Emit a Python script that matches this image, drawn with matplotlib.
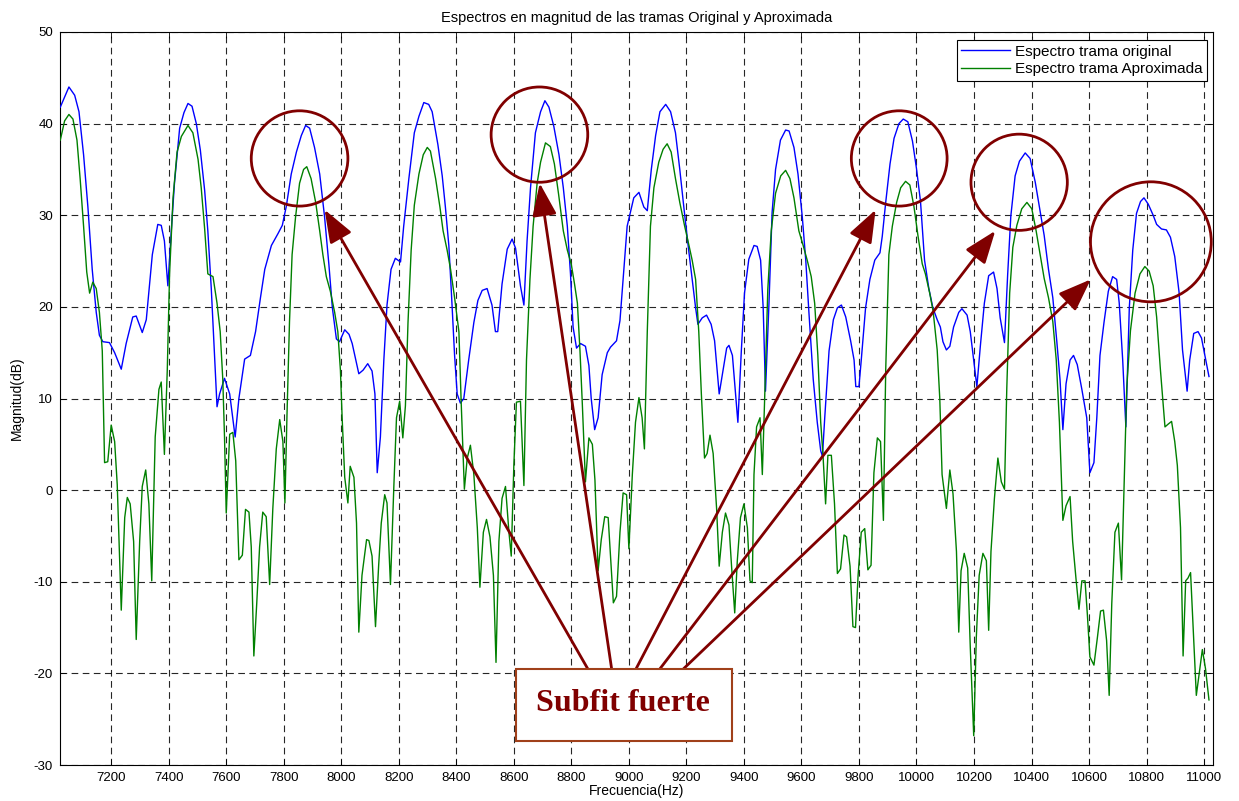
import matplotlib
matplotlib.use("Agg")
import matplotlib.pyplot as plt
from matplotlib.patches import Ellipse, Rectangle

plt.rcParams['font.family'] = ['Liberation Sans', 'DejaVu Sans']
plt.rcParams['axes.unicode_minus'] = False

# ---------------- data ----------------
freq_orig = [7023, 7053, 7073, 7088, 7104, 7119, 7134, 7148, 7159, 7171, 7194, 7212, 7235, 7252, 7275, 7287,
             7308, 7322, 7343, 7362, 7374, 7385, 7397, 7409, 7420, 7438, 7453, 7467, 7481, 7496, 7510, 7525,
             7536, 7548, 7560, 7568, 7577, 7594, 7612, 7631, 7644, 7664, 7684, 7702, 7719, 7734, 7757, 7780,
             7795, 7809, 7826, 7844, 7861, 7876, 7890, 7907, 7925, 7942, 7957, 7969, 7983, 7994, 8012, 8027,
             8038, 8061, 8076, 8092, 8107, 8117, 8125, 8136, 8148, 8159, 8173, 8188, 8206, 8217, 8235, 8254,
             8270, 8287, 8304, 8316, 8336, 8351, 8362, 8374, 8383, 8394, 8403, 8414, 8426, 8443, 8461, 8475,
             8490, 8507, 8524, 8536, 8544, 8559, 8577, 8594, 8606, 8623, 8635, 8646, 8658, 8675, 8693, 8708,
             8722, 8739, 8757, 8772, 8786, 8797, 8806, 8818, 8832, 8849, 8861, 8869, 8881, 8893, 8907, 8925,
             8936, 8957, 8969, 8980, 8994, 9006, 9017, 9035, 9052, 9064, 9078, 9093, 9108, 9128, 9145, 9162,
             9177, 9191, 9206, 9220, 9232, 9240, 9255, 9270, 9286, 9298, 9314, 9325, 9340, 9348, 9360, 9379,
             9391, 9402, 9417, 9435, 9446, 9458, 9467, 9475, 9487, 9498, 9510, 9527, 9545, 9557, 9574, 9588,
             9603, 9615, 9626, 9641, 9655, 9667, 9673, 9681, 9696, 9711, 9725, 9739, 9754, 9771, 9783, 9789,
             9800, 9808, 9823, 9838, 9855, 9873, 9881, 9893, 9908, 9922, 9939, 9954, 9970, 9986, 10000, 10014,
             10028, 10043, 10057, 10072, 10083, 10092, 10104, 10116, 10129, 10147, 10158, 10176, 10187, 10199,
             10210, 10222, 10236, 10251, 10268, 10280, 10291, 10306, 10317, 10328, 10343, 10358, 10378, 10395,
             10413, 10430, 10444, 10459, 10474, 10488, 10499, 10509, 10520, 10534, 10546, 10559, 10575, 10592,
             10603, 10617, 10627, 10638, 10652, 10667, 10682, 10696, 10705, 10717, 10728, 10740, 10752, 10765,
             10779, 10791, 10806, 10823, 10835, 10852, 10869, 10883, 10898, 10913, 10925, 10941, 10950, 10964,
             10979, 10991, 11006, 11017]
mag_orig = [41.8, 44.0, 43.1, 41.3, 36.6, 30.9, 24.1, 19.4, 16.9, 16.2, 16.1, 15.0, 13.2, 16.0, 18.9, 19.0,
            17.2, 18.6, 25.7, 29.0, 28.9, 27.2, 22.3, 28.3, 33.5, 39.5, 41.2, 42.2, 41.9, 40.0, 37.1, 32.7,
            28.3, 22.0, 14.2, 9.1, 10.5, 12.2, 10.5, 5.8, 10.0, 14.3, 14.7, 17.3, 21.0, 24.1, 26.7, 28.0,
            28.9, 31.0, 34.5, 36.9, 38.7, 39.8, 39.5, 37.4, 34.5, 29.8, 24.6, 19.9, 16.5, 16.2, 17.5, 17.0,
            16.0, 12.7, 13.1, 13.8, 13.0, 10.5, 1.9, 5.8, 14.2, 20.2, 24.1, 25.3, 24.9, 28.8, 34.0, 39.0,
            40.8, 42.3, 42.1, 41.3, 37.7, 34.3, 30.9, 26.7, 21.5, 14.7, 10.5, 9.5, 10.0, 14.2, 18.3, 20.7,
            21.8, 22.0, 20.2, 17.3, 17.3, 22.5, 26.3, 27.4, 26.4, 22.3, 20.2, 27.2, 33.0, 39.0, 41.3, 42.5,
            41.8, 39.7, 36.6, 33.0, 28.8, 23.6, 17.8, 15.5, 16.0, 15.7, 13.6, 10.0, 6.6, 7.9, 12.6, 15.0,
            15.6, 16.3, 18.5, 23.0, 28.8, 30.4, 31.9, 32.5, 30.9, 30.5, 35.0, 38.7, 41.3, 42.1, 41.3, 39.0,
            35.0, 30.9, 26.7, 23.0, 19.9, 18.1, 18.8, 19.1, 18.1, 16.3, 10.5, 12.6, 15.5, 15.8, 14.7, 7.4,
            15.2, 21.5, 25.2, 26.7, 26.6, 25.1, 19.9, 10.8, 20.3, 30.3, 35.0, 38.2, 39.3, 39.2, 37.4, 34.5,
            29.8, 25.1, 19.4, 12.1, 7.4, 4.3, 3.7, 7.9, 15.2, 18.6, 19.9, 20.2, 18.9, 16.3, 14.2, 11.3,
            11.3, 14.2, 19.9, 23.0, 25.1, 25.9, 27.7, 31.4, 35.6, 38.4, 40.0, 40.5, 40.2, 38.1, 35.1, 31.5,
            25.1, 22.0, 19.9, 18.6, 17.8, 16.2, 15.3, 15.7, 17.8, 19.4, 19.8, 19.1, 17.3, 14.2,
            11.3, 15.7, 20.4, 23.4, 23.8, 22.0, 18.8, 16.1, 23.5, 29.9, 34.3, 35.9, 36.8, 36.2,
            33.6, 30.4, 27.8, 24.1, 21.0, 16.2, 12.1, 6.6, 11.6, 14.2, 14.7, 13.7, 11.0, 7.9,
            1.9, 3.0, 7.9, 14.7, 18.3, 21.7, 23.3, 23.0, 20.4, 14.2, 6.9, 19.9, 26.2, 30.2,
            31.5, 31.9, 31.2, 30.0, 29.0, 28.5, 28.4, 27.6, 25.5, 21.6, 15.3, 10.8, 14.2, 17.1,
            17.3, 16.6, 14.2, 12.4]

freq_aprox = [7023, 7038, 7053, 7067, 7081, 7092, 7104, 7115, 7125, 7136, 7148, 7159, 7169, 7177, 7188, 7200,
              7212, 7221, 7235, 7247, 7256, 7266, 7278, 7287, 7299, 7308, 7320, 7331, 7341, 7353, 7366, 7374,
              7385, 7395, 7403, 7415, 7429, 7444, 7467, 7484, 7502, 7513, 7525, 7536, 7554, 7568, 7579, 7588,
              7594, 7600, 7612, 7623, 7633, 7644, 7656, 7667, 7679, 7687, 7696, 7706, 7716, 7727, 7739, 7751,
              7762, 7774, 7786, 7797, 7804, 7811, 7820, 7829, 7841, 7855, 7869, 7880, 7895, 7911, 7925, 7936,
              7948, 7962, 7977, 7988, 7997, 8003, 8012, 8023, 8031, 8044, 8053, 8061, 8072, 8088, 8096, 8107,
              8119, 8130, 8139, 8151, 8159, 8171, 8183, 8192, 8203, 8214, 8223, 8232, 8243, 8254, 8270, 8285,
              8299, 8310, 8328, 8343, 8354, 8368, 8380, 8394, 8409, 8417, 8428, 8438, 8449, 8461, 8473, 8482,
              8494, 8505, 8517, 8529, 8538, 8548, 8559, 8571, 8583, 8591, 8600, 8609, 8623, 8635, 8644, 8656,
              8667, 8681, 8693, 8710, 8727, 8741, 8756, 8772, 8786, 8800, 8811, 8821, 8830, 8838, 8849, 8861,
              8873, 8882, 8893, 8904, 8916, 8928, 8937, 8946, 8957, 8969, 8980, 8992, 9000, 9012, 9023, 9035,
              9046, 9054, 9064, 9075, 9087, 9104, 9119, 9133, 9147, 9162, 9177, 9194, 9209, 9220, 9232, 9243,
              9252, 9263, 9272, 9282, 9293, 9305, 9314, 9325, 9336, 9348, 9357, 9368, 9377, 9388, 9400, 9412,
              9421, 9429, 9435, 9444, 9456, 9464, 9472, 9483, 9495, 9510, 9528, 9545, 9560, 9574, 9591, 9606,
              9620, 9634, 9646, 9657, 9667, 9675, 9684, 9692, 9704, 9715, 9725, 9736, 9748, 9757, 9769, 9779,
              9788, 9797, 9808, 9820, 9831, 9842, 9852, 9864, 9875, 9885, 9893, 9904, 9916, 9931, 9945, 9962,
              9977, 9991, 10005, 10020, 10031, 10046, 10058, 10072, 10081, 10089, 10104, 10116, 10127, 10139,
              10147, 10155, 10166, 10178, 10187, 10199, 10208, 10218, 10231, 10243, 10251, 10259, 10271, 10283,
              10295, 10306, 10314, 10324, 10335, 10349, 10366, 10384, 10401, 10416, 10430, 10444, 10459, 10474,
              10486, 10497, 10509, 10520, 10534, 10543, 10555, 10565, 10575, 10586, 10594, 10603, 10617, 10629,
              10640, 10650, 10661, 10670, 10679, 10690, 10702, 10713, 10721, 10731, 10744, 10760, 10777, 10794,
              10809, 10823, 10835, 10848, 10864, 10875, 10887, 10898, 10907, 10918, 10927, 10936, 10944, 10953,
              10962, 10973, 10985, 10994, 11005, 11017]
mag_aprox = [38.2, 40.3, 41.0, 40.5, 38.2, 34.0, 28.8, 23.8, 21.5, 22.7, 22.0, 19.4, 15.2, 3.0, 3.1, 7.1,
             5.3, 0.6, -13.1, -3.0, -0.8, -1.5, -5.6, -16.3, -5.6, 0.4, 2.2, -1.5, -9.9, 5.8, 11.0, 11.8,
             3.9, 13.1, 23.6, 31.9, 36.9, 38.6, 39.8, 39.0, 36.1, 33.0, 28.5, 23.6, 23.3, 20.4, 17.3, 12.1,
             5.8, -2.5, 6.1, 6.3, 3.2, -7.6, -7.1, -2.1, -2.4, -6.2, -18.1, -12.4, -6.2, -2.4, -2.9, -10.3,
             -2.0, 4.5, 7.7, 5.3, -1.4, 7.9, 18.4, 25.7, 29.8, 33.5, 35.0, 35.3, 34.0, 31.4, 28.3, 25.7,
             23.3, 21.7, 19.4, 17.3, 13.1, 7.9, 1.4, -1.4, 2.6, 1.4, -3.6, -15.5, -9.3, -5.4, -5.5, -7.2,
             -14.9, -8.2, -3.6, -0.5, -1.4, -10.3, 0.6, 7.9, 9.7, 5.7, 9.2, 18.3, 26.2, 31.1, 34.5, 36.6,
             37.4, 37.0, 34.0, 30.9, 28.3, 26.2, 24.1, 21.0, 17.3, 9.5, 0.1, 3.5, 4.9, 1.7, -4.1, -10.6,
             -4.6, -3.2, -5.1, -9.3, -18.8, -5.6, -0.9, 0.4, -4.6, -7.2, 2.7, 9.6, 9.7, 0.5, 14.2, 23.0,
             28.8, 33.5, 35.8, 37.9, 37.5, 35.6, 32.2, 28.3, 26.2, 24.6, 22.5, 20.4, 15.2, 9.5, 0.9, 5.7,
             5.0, 1.1, -8.8, -5.4, -2.9, -3.0, -7.7, -12.3, -11.6, -4.6, -0.3, -0.5, -6.4, 1.7, 7.4, 10.1,
             7.9, 4.5, 17.3, 28.8, 33.0, 35.8, 37.2, 37.8, 36.9, 34.0, 31.4, 28.8, 26.7, 25.1, 23.0, 17.3,
             10.5, 3.5, 4.0, 6.0, 4.0, -2.0, -8.3, -4.6, -2.5, -3.8, -8.3, -13.4, -7.7, -3.0, -1.5, -4.1,
             -9.9, -10.1, 1.7, 6.9, 7.9, 1.7, 9.9, 21.9, 28.3, 32.4, 34.3, 34.9, 34.0, 31.9, 28.3, 26.7,
             25.1, 23.3, 20.4, 14.7, 7.4, 3.8, -1.5, 3.8, 3.8, -1.5, -9.1, -8.6, -4.9, -5.1, -8.3, -14.9,
             -15.0, -9.3, -4.6, -4.2, -8.7, -8.2, 1.9, 5.7, 5.3, -3.3, 13.1, 25.7, 28.8, 31.4, 33.0, 33.7,
             33.3, 31.0, 27.8, 24.7, 23.6, 21.5, 19.5, 15.3, 10.0, 1.7, -2.0, 2.2, -0.4, -6.7,
             -15.5, -8.8, -6.9, -8.5, -17.1, -26.8, -16.1, -9.3, -6.9, -7.7, -15.3, -6.7, -0.9, 3.5,
             0.9, 0.1, 11.1, 21.5, 26.5, 28.9, 30.7, 31.4, 30.7, 28.3, 25.7, 23.1, 21.0, 18.4,
             14.2, 7.4, -3.3, -1.7, -0.7, -5.6, -9.8, -13.0, -9.9, -9.9, -13.5, -18.2, -19.1, -16.1,
             -13.2, -13.1, -16.4, -22.4, -12.4, -4.6, -3.6, -9.8, -0.4, 11.1, 17.4, 21.5, 23.6, 24.4,
             23.9, 22.3, 18.9, 13.2, 6.9, 7.2, 7.5, 5.3, 2.7, -4.1, -18.1, -9.9, -9.6, -9.0,
             -15.0, -22.4, -19.5, -17.4, -19.5, -22.9]

x_ticks = list(range(7200, 11001, 200))
y_ticks = list(range(-30, 51, 10))

title_text = "Espectros en magnitud de las tramas Original y Aproximada"
xlabel_text = "Frecuencia(Hz)"
ylabel_text = "Magnitud(dB)"
legend_labels = ["Espectro trama original", "Espectro trama Aproximada"]

# annotation geometry (data units)
ellipse_centers = [(7855, 36.2), (8689, 38.8), (9940, 36.2), (10357, 33.6), (10815, 27.1)]
ellipse_sizes = [(336, 10.4), (336, 10.4), (333, 10.4), (335, 10.5), (420, 13.1)]
arrow_starts = [(8857, -19.5), (8940, -19.5), (9025, -19.5), (9108, -19.5), (9190, -19.5)]
arrow_tips = [(7942, 30.6), (8690, 33.5), (9858, 30.6), (10274, 28.3), (10606, 23.0)]
box_text = "Subfit fuerte"

# ---------------- figure ----------------
fig = plt.figure(figsize=(12.39, 8.01), dpi=100)
ax = fig.add_axes([60 / 1239, 36 / 801, 1153 / 1239, 733 / 801])

ax.plot(freq_orig, mag_orig, color=(0, 0, 1), lw=1.0, label=legend_labels[0], zorder=3)
ax.plot(freq_aprox, mag_aprox, color=(0, 0.5, 0), lw=1.0, label=legend_labels[1], zorder=3)

ax.set_xlim(7022, 11031)
ax.set_ylim(-30, 50)
ax.set_xticks(x_ticks)
ax.set_yticks(y_ticks)
ax.tick_params(direction='in', top=True, right=True, labelsize=9.5, length=4, width=0.6, pad=5)
ax.grid(True, color='black', linestyle=(0, (6, 4)), linewidth=0.8, alpha=0.85)
for sp in ax.spines.values():
    sp.set_linewidth(0.8)

ax.set_title(title_text, fontsize=10.5, pad=7)
ax.set_xlabel(xlabel_text, fontsize=10)
ax.set_ylabel(ylabel_text, fontsize=10)
ax.xaxis.set_label_coords(0.5, -0.026)
ax.yaxis.set_label_coords(-0.031, 0.5)

leg = ax.legend(loc='upper right', bbox_to_anchor=(0.9948, 0.989), fontsize=11,
                frameon=True, fancybox=False, edgecolor='black', framealpha=1,
                borderpad=0.3, handlelength=3.2, labelspacing=0.25, handletextpad=0.3,
                borderaxespad=0.0)
leg.get_frame().set_linewidth(0.8)
leg.set_zorder(6)

dark_red = '#800000'
for (cx, cy), (w, h) in zip(ellipse_centers, ellipse_sizes):
    ax.add_patch(Ellipse((cx, cy), w, h, fill=False, edgecolor=dark_red, lw=2, zorder=4))

for (sx, sy), (tx, ty) in zip(arrow_starts, arrow_tips):
    ax.annotate('', xy=(tx, ty), xytext=(sx, sy),
                arrowprops=dict(arrowstyle='-|>,head_length=0.8,head_width=0.3',
                                mutation_scale=25, lw=2, color=dark_red,
                                shrinkA=0, shrinkB=0), zorder=5)

ax.add_patch(Rectangle((8606, -27.4), 751, 7.9, facecolor='white', edgecolor='#A0401A',
                       lw=1.5, zorder=6))
ax.text(8981, -23.3, box_text, ha='center', va='center', fontsize=23, fontweight='bold',
        family=['Liberation Serif', 'DejaVu Serif'], color=dark_red, zorder=7)

fig.savefig('out.png', dpi=100)
